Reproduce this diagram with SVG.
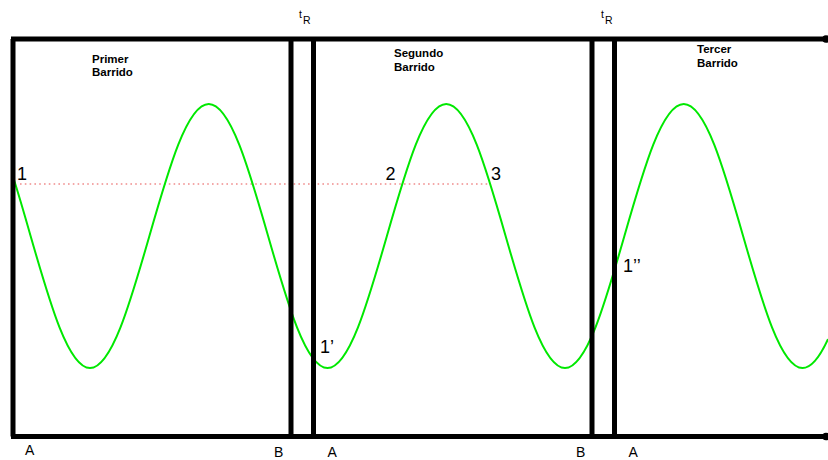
<svg xmlns="http://www.w3.org/2000/svg" width="828" height="460" viewBox="0 0 828 460">
<style>
.frame{stroke:#000;stroke-width:5;fill:none;stroke-linecap:butt}
.wave{stroke:#00e800;stroke-width:2;fill:none}
.dots{stroke:#f08c8c;stroke-width:1.6;stroke-dasharray:1.6 3.2;fill:none}
.t{font-family:"Liberation Sans",Arial,sans-serif;fill:#000}
.title{font-size:11.5px;font-weight:bold}
.num{font-size:18px}
.lbl{font-size:14px}
.tr{font-size:10.5px}
</style>
<rect width="828" height="460" fill="#fff"/>
<g id="signal">
<path class="dots" d="M20 184 H490"/>
<path class="wave" d="M13 176.7 C18.9 195 24.8 215.5 30.6 236 C50 303.6 68.5 368 90 368 C111.5 368 130 303.6 149.4 236 C168.75 168.4 187.26 104 208.75 104 C230.24 104 248.75 168.4 268.1 236 C287.5 303.6 306 368 327.5 368 C349 368 367.5 303.6 386.9 236 C406.25 168.4 424.76 104 446.25 104 C467.74 104 486.25 168.4 505.6 236 C525 303.6 543.5 368 565 368 C586.5 368 605 303.6 624.4 236 C643.75 168.4 662.26 104 683.75 104 C705.24 104 723.75 168.4 743.1 236 C762.5 303.6 781 368 802.5 368 C811 368 819.5 357.6 828 339.1"/>
</g>
<g id="frame">
<path class="frame" d="M13 39 V436.5 M11 39 H826 M11 436.5 H826 M291 39 V436.5 M313.5 39 V436.5 M592 39 V436.5 M614.5 39 V436.5"/>
<circle cx="826" cy="39" r="3.8" fill="#000"/>
<circle cx="826" cy="436.5" r="3.8" fill="#000"/>
</g>
<g id="titles">
<text class="t title" x="92" y="62.5">Primer</text>
<text class="t title" x="92" y="76">Barrido</text>
<text class="t title" x="394" y="57">Segundo</text>
<text class="t title" x="394" y="70.5">Barrido</text>
<text class="t title" x="697" y="53">Tercer</text>
<text class="t title" x="697" y="66.5">Barrido</text>
</g>
<g id="tr-labels">
<text class="t tr" x="299" y="18">t</text>
<text class="t tr" x="303" y="24">R</text>
<text class="t tr" x="601" y="18">t</text>
<text class="t tr" x="605" y="24">R</text>
</g>
<g id="points">
<text class="t num" x="17" y="180">1</text>
<text class="t num" x="385.5" y="180">2</text>
<text class="t num" x="491" y="180">3</text>
<text class="t num" x="320" y="353">1’</text>
<text class="t num" x="623" y="272">1’’</text>
</g>
<g id="ab-labels">
<text class="t lbl" x="25" y="455">A</text>
<text class="t lbl" x="274" y="457">B</text>
<text class="t lbl" x="327.5" y="457">A</text>
<text class="t lbl" x="576" y="457">B</text>
<text class="t lbl" x="628.5" y="456.5">A</text>
</g>
</svg>
